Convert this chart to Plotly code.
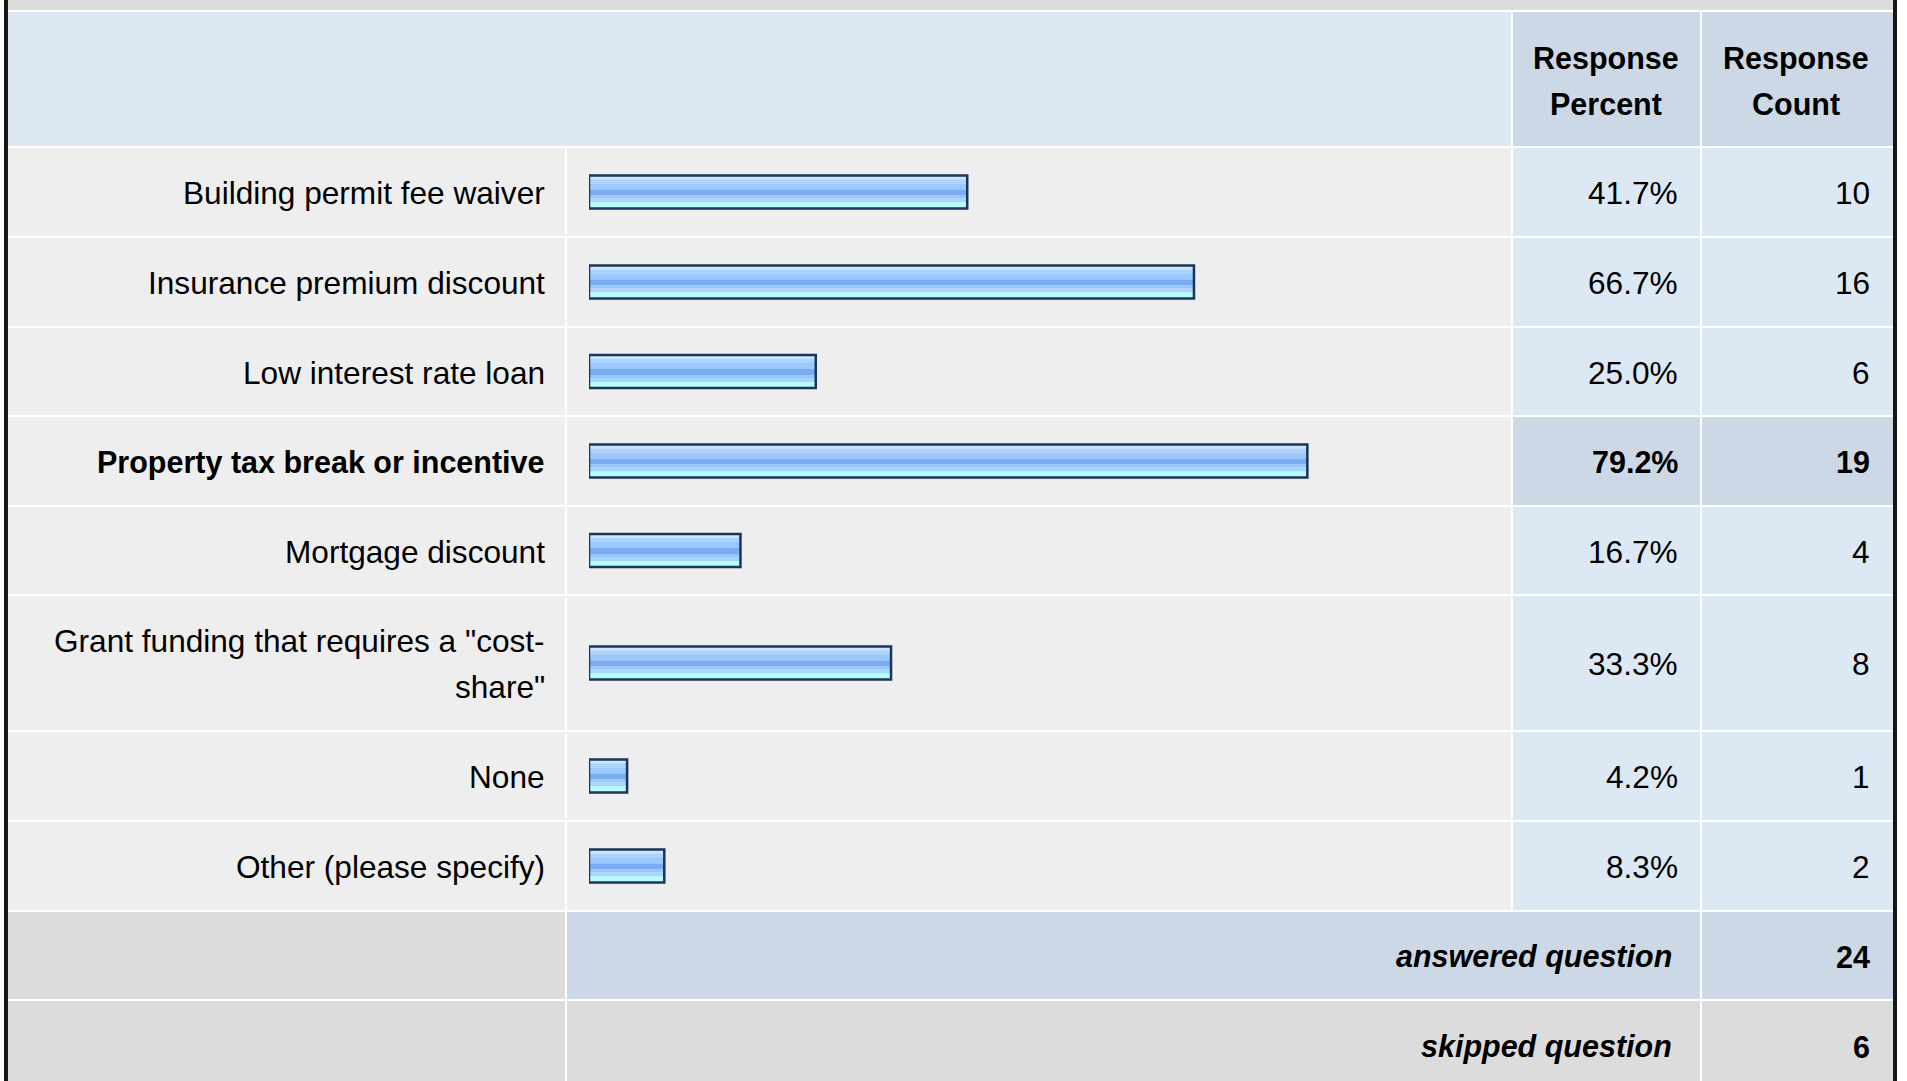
import plotly.graph_objects as go

# ---------------- data ----------------
labels = [
    "Building permit fee waiver",
    "Insurance premium discount",
    "Low interest rate loan",
    "Property tax break or incentive",
    "Mortgage discount",
    'Grant funding that requires a "cost-<br>share"',
    "None",
    "Other (please specify)",
]
percents = [41.7, 66.7, 25.0, 79.2, 16.7, 33.3, 4.2, 8.3]
counts = [10, 16, 6, 19, 4, 8, 1, 2]
header_pct = "Response<br>Percent"
header_cnt = "Response<br>Count"
summary_labels = ["answered question", "skipped question"]
summary_values = [24, 6]

# ---------------- layout / style ----------------
W, H = 1907, 1081
FONT = "Liberation Sans, Arial, Helvetica, sans-serif"
FS_REG = 31.6
FS_BOLD = 30.5
TXT = "#000000"
GREY = "#dcdcdc"
ROWBG = "#eeeeee"
LBLUE = "#dde8f5"
DBLUE = "#ccd8e6"
BORDER = "#161616"

col_edges = [8, 565, 1511, 1700, 1893]   # label | bar | percent | count
row_seps = [10, 146, 236, 326, 415, 505, 594, 730, 820, 910, 999, H + 20]
SEP = 2
BAR_X0, BAR_X100 = 589, 1496
BAR_H = 35
hi = percents.index(max(percents))

fig = go.Figure()
shapes = []
annots = []


def rect(x0, x1, y0, y1, color):
    shapes.append(dict(type="rect", xref="x", yref="y", x0=x0, x1=x1, y0=y0, y1=y1,
                       fillcolor=color, line=dict(width=0), layer="below"))


def text(x, y, s, anchor="right", bold=False, italic=False):
    t = s
    if bold:
        t = "<b>" + t + "</b>"
    if italic:
        t = "<i>" + t + "</i>"
    annots.append(dict(x=x, y=y, xref="x", yref="y", text=t, showarrow=False,
                       xanchor=anchor, yanchor="middle",
                       font=dict(family=FONT, size=FS_BOLD if bold else FS_REG, color=TXT)))


def multiline(x, yc, s, spacing, anchor="right", bold=False, italic=False):
    lines = s.split("<br>")
    n = len(lines)
    for i, ln in enumerate(lines):
        text(x, yc + (i - (n - 1) / 2) * spacing, ln, anchor, bold, italic)


# top grey band
rect(col_edges[0], col_edges[-1], 0, row_seps[0], GREY)

# header row
hy0, hy1 = row_seps[0] + SEP, row_seps[1]
rect(col_edges[0], col_edges[2], hy0, hy1, LBLUE)
rect(col_edges[2] + SEP, col_edges[3], hy0, hy1, DBLUE)
rect(col_edges[3] + SEP, col_edges[4], hy0, hy1, DBLUE)
hc = (hy0 + hy1) / 2 + 2
multiline(1606, hc, header_pct, 46, anchor="center", bold=True)
multiline(1796, hc, header_cnt, 46, anchor="center", bold=True)

# data rows
centers = []
for i, (lab, p, c) in enumerate(zip(labels, percents, counts)):
    y0, y1 = row_seps[i + 1] + SEP, row_seps[i + 2]
    yc = (y0 + y1) / 2
    centers.append(yc)
    rect(col_edges[0], col_edges[1], y0, y1, ROWBG)
    rect(col_edges[1] + SEP, col_edges[2], y0, y1, ROWBG)
    cbg = DBLUE if i == hi else LBLUE
    rect(col_edges[2] + SEP, col_edges[3], y0, y1, cbg)
    rect(col_edges[3] + SEP, col_edges[4], y0, y1, cbg)
    b = i == hi
    multiline(547, yc + 1, lab, 46, bold=b)
    text(1680, yc + 1, f"{p:.1f}%", bold=b)
    text(1872, yc + 1, f"{c}", bold=b)

# summary rows
n = len(labels)
for j, (lab, v) in enumerate(zip(summary_labels, summary_values)):
    y0, y1 = row_seps[n + 1 + j] + SEP, row_seps[n + 2 + j]
    yc = (y0 + y1) / 2
    if j == 1:
        yc = (y0 + y0 + 89) / 2
    bg = DBLUE if j == 0 else GREY
    rect(col_edges[0], col_edges[1], y0, y1, GREY)
    rect(col_edges[1] + SEP, col_edges[3], y0, y1, bg)
    rect(col_edges[3] + SEP, col_edges[4], y0, y1, bg)
    text(1674, yc + 1, lab, bold=True, italic=True)
    text(1872, yc + 1, f"{v}", bold=True)

# outer black borders
rect(4, col_edges[0], 0, H + 20, BORDER)
rect(col_edges[-1], col_edges[-1] + 4, 0, H + 20, BORDER)

# ---------------- bars (striped gradient) ----------------
stripes = [  # (top offset within bar, height, color)
    (1, 4, "#cbe4ff"),
    (5, 4, "#abd3ff"),
    (9, 6, "#9bc9fd"),
    (15, 6, "#79acf1"),
    (21, 3, "#95c6fe"),
    (24, 4, "#a6d6ff"),
    (28, 6, "#b6fdff"),
]
for top, h, col in stripes:
    fig.add_trace(go.Bar(
        x=percents, y=centers, orientation="h", base=0,
        width=h, offset=-BAR_H / 2 + top,
        marker=dict(color=col, line=dict(width=0)),
        xaxis="x2", yaxis="y", hoverinfo="skip", showlegend=False))
fig.add_trace(go.Bar(
    x=percents, y=centers, orientation="h", base=0,
    width=BAR_H - 2, offset=-BAR_H / 2 + 1,
    marker=dict(color="rgba(0,0,0,0)", line=dict(width=2.5, color="#1b3458")),
    xaxis="x2", yaxis="y", hoverinfo="skip", showlegend=False))

fig.update_layout(
    width=W, height=H,
    margin=dict(l=0, r=0, t=0, b=0, pad=0),
    paper_bgcolor="white", plot_bgcolor="rgba(0,0,0,0)",
    barmode="overlay",
    showlegend=False,
    xaxis=dict(range=[0, W], domain=[0, 1], visible=False, fixedrange=True),
    xaxis2=dict(range=[0, 100], domain=[BAR_X0 / W, BAR_X100 / W], anchor="y",
                visible=False, fixedrange=True),
    yaxis=dict(range=[H, 0], domain=[0, 1], visible=False, fixedrange=True),
    shapes=shapes,
    annotations=annots,
)

fig.write_html("out.html", config={"displayModeBar": False, "staticPlot": True},
               post_script="document.body.style.margin='0';document.body.style.overflow='hidden';")
